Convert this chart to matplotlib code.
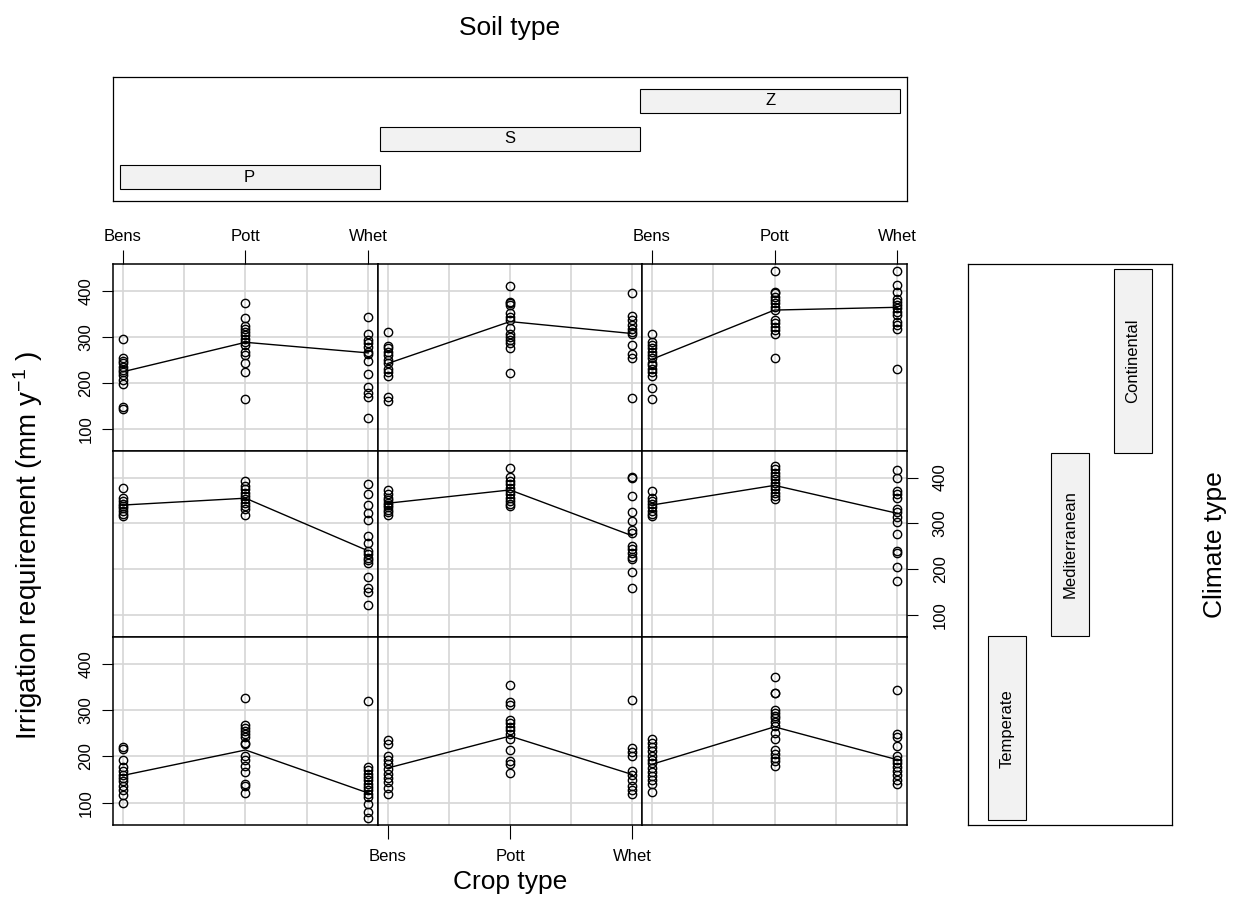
import numpy as np
import matplotlib.pyplot as plt

plt.rcParams['font.family'] = ['Liberation Sans', 'DejaVu Sans']
plt.rcParams['mathtext.fontset'] = 'custom'
plt.rcParams['mathtext.rm'] = 'Liberation Sans'

# categories
crops = ["Bens", "Pott", "Whet"]
soils = ["P", "S", "Z"]
climates = ["Continental", "Mediterranean", "Temperate"]  # top row to bottom row

# irrigation requirement, [Bens, Pott, Whet] per soil
cont_P = [[295, 253, 247, 242, 235, 228, 224, 217, 206, 197, 147, 143],
          [374, 340, 324, 317, 310, 304, 296, 288, 282, 266, 260, 242, 224, 164],
          [343, 305, 293, 286, 278, 267, 262, 247, 220, 191, 177, 170, 123]]
cont_S = [[310, 280, 275, 267, 260, 249, 242, 231, 224, 215, 170, 161],
          [411, 376, 373, 369, 351, 343, 336, 318, 307, 300, 293, 286, 276, 222],
          [394, 345, 336, 325, 317, 310, 305, 283, 262, 253, 167]]
cont_Z = [[306, 288, 282, 275, 267, 260, 253, 244, 238, 231, 224, 215, 188, 164],
          [443, 398, 394, 387, 380, 373, 365, 358, 336, 329, 322, 315, 307, 255],
          [443, 412, 398, 383, 376, 369, 362, 354, 347, 333, 325, 317, 231]]

med_P = [[378, 356, 349, 343, 338, 333, 327, 321, 316],
         [393, 382, 375, 367, 360, 353, 345, 338, 331, 319],
         [385, 364, 340, 322, 307, 273, 257, 240, 233, 225, 220, 213, 183, 159, 151, 121]]
med_S = [[372, 364, 356, 351, 345, 340, 335, 329, 324, 319],
         [420, 402, 393, 385, 378, 371, 364, 356, 349, 343, 338],
         [402, 398, 360, 324, 305, 285, 280, 251, 244, 236, 227, 222, 193, 160]]
med_Z = [[371, 356, 349, 342, 335, 327, 320, 316],
         [425, 418, 411, 404, 396, 389, 382, 375, 367, 360, 353],
         [416, 398, 371, 364, 356, 331, 324, 313, 304, 276, 240, 236, 205, 175]]

temp_P = [[220, 217, 192, 178, 168, 161, 154, 146, 136, 127, 117, 99],
          [327, 268, 262, 255, 248, 241, 230, 226, 202, 192, 179, 166, 141, 136, 121],
          [319, 178, 170, 163, 156, 149, 141, 134, 127, 120, 112, 98, 81, 67]]
temp_S = [[235, 228, 202, 192, 184, 172, 163, 154, 144, 132, 120],
          [354, 318, 311, 279, 272, 264, 257, 248, 238, 215, 191, 184, 164],
          [322, 219, 209, 201, 168, 161, 150, 137, 128, 120]]
temp_Z = [[238, 230, 221, 212, 202, 193, 185, 175, 166, 157, 149, 141, 123],
          [372, 338, 336, 300, 293, 287, 282, 274, 266, 251, 237, 214, 206, 197, 190, 180],
          [343, 249, 242, 222, 202, 193, 186, 178, 168, 159, 150, 141]]

# mean lines per soil, [Bens, Pott, Whet]
cont_line = {"P": [224, 288, 265], "S": [242, 333, 307], "Z": [251, 358, 364]}
med_line = {"P": [340, 355, 240], "S": [344, 373, 273], "Z": [340, 383, 322]}
temp_line = {"P": [159, 214, 121], "S": [175, 244, 161], "Z": [183, 264, 193]}

points = {"Continental": {"P": cont_P, "S": cont_S, "Z": cont_Z},
          "Mediterranean": {"P": med_P, "S": med_S, "Z": med_Z},
          "Temperate": {"P": temp_P, "S": temp_S, "Z": temp_Z}}
lines = {"Continental": cont_line, "Mediterranean": med_line, "Temperate": temp_line}

W, H = 1238, 924
fig = plt.figure(figsize=(W / 100, H / 100), dpi=100)


def px_axes(x0, y0, x1, y1):
    # add axes from pixel box (top-left origin)
    return fig.add_axes([x0 / W, 1 - y1 / H, (x1 - x0) / W, (y1 - y0) / H])


col_edges = [113, 378, 642, 907]
row_edges = [264, 451, 637, 825]
xpos = np.arange(1, len(crops) + 1)

for r, clim in enumerate(climates):
    for c, soil in enumerate(soils):
        ax = px_axes(col_edges[c], row_edges[r], col_edges[c + 1], row_edges[r + 1])
        ax.set_xlim(0.92, 3.08)
        ax.set_ylim(52, 458)
        ax.set_axisbelow(True)

        ax.set_xticks(xpos)
        ax.set_xticklabels(crops)
        ax.set_xticks([1.5, 2.5], minor=True)
        ax.set_yticks([100, 200, 300, 400])
        ax.grid(True, which='both', color='#d6d6d6', lw=1.2)
        ax.tick_params(which='minor', length=0)

        top_lab = (r == 0 and c != 1)
        bot_lab = (r == 2 and c == 1)
        left_lab = (c == 0 and r != 1)
        right_lab = (c == 2 and r == 1)
        ax.tick_params(axis='x', which='major', top=top_lab, labeltop=top_lab,
                       bottom=bot_lab, labelbottom=bot_lab,
                       length=10, width=0.8, labelsize=12)
        if top_lab:
            ax.tick_params(axis='x', pad=4.5)
        if bot_lab:
            ax.tick_params(axis='x', pad=7.5)
        ax.tick_params(axis='y', which='major', left=left_lab, labelleft=left_lab,
                       right=right_lab, labelright=right_lab,
                       length=8, width=0.8, labelsize=12, pad=6, labelrotation=90)
        if right_lab:
            ax.tick_params(axis='y', pad=10.5)
        for lab in ax.get_yticklabels():
            lab.set_va('center')

        for sp in ax.spines.values():
            sp.set_linewidth(1.1)

        for i, vals in enumerate(points[clim][soil]):
            ax.plot(np.full(len(vals), xpos[i]), vals, 'o', mfc='none', mec='black',
                    ms=6, mew=1.0)
        ax.plot(xpos, lines[clim][soil], color='black', lw=1)

# soil strips (top)
sax = px_axes(113, 77, 907, 201)
sax.set_xlim(-0.025, 3.025)
sax.set_ylim(-0.63, 2.63)
sax.barh(range(3), 1, left=range(3), height=0.63, color='#f2f2f2',
         edgecolor='black', lw=0.8)
for i, s in enumerate(soils):
    sax.text(i + 0.5, i, s, ha='center', va='center', fontsize=12)
sax.set_xticks([])
sax.set_yticks([])
for sp in sax.spines.values():
    sp.set_linewidth(0.9)

# climate strips (right)
strip_order = climates[::-1]
cax = px_axes(968, 264, 1172, 825)
cax.set_xlim(-0.62, 2.62)
cax.set_ylim(-0.025, 3.025)
cax.bar(range(3), 1, bottom=range(3), width=0.6, color='#f2f2f2',
        edgecolor='black', lw=0.8)
for i, s in enumerate(strip_order):
    cax.text(i, i + 0.5, s, ha='center', va='center', rotation=90, fontsize=12)
cax.set_xticks([])
cax.set_yticks([])
for sp in cax.spines.values():
    sp.set_linewidth(0.9)

fig.text(510 / W, 1 - 28 / H, "Soil type", ha='center', va='center', fontsize=19)
fig.text(510 / W, 1 - 882 / H, "Crop type", ha='center', va='center', fontsize=19)
fig.text(28 / W, 1 - 545 / H, "Irrigation requirement (mm y$\\mathregular{^{-1}}$ )",
         ha='center', va='center', rotation=90, fontsize=20)
fig.text(1215 / W, 1 - 545 / H, "Climate type", ha='center', va='center',
         rotation=90, fontsize=19)

fig.savefig("out.png", dpi=100)
